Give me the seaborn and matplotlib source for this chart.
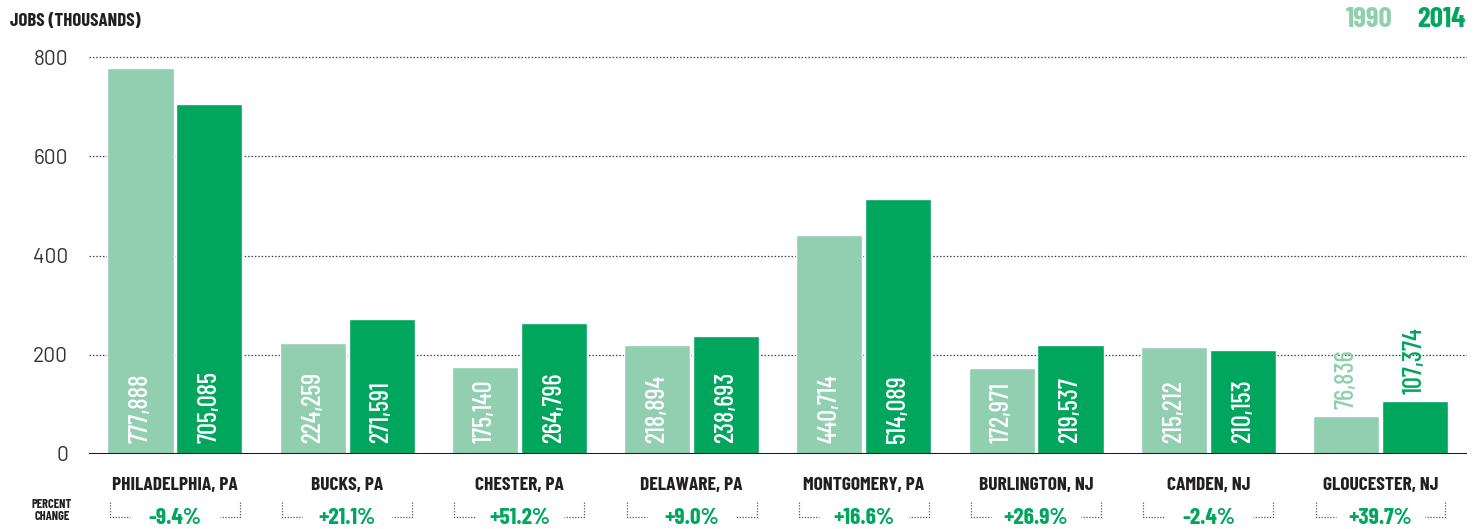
import pandas as pd
import matplotlib.pyplot as plt
import seaborn as sns

OUTPUT_FILE = "out.png"
COUNTIES = ["PHILADELPHIA, PA", "BUCKS, PA", "CHESTER, PA", "DELAWARE, PA",
            "MONTGOMERY, PA", "BURLINGTON, NJ", "CAMDEN, NJ", "GLOUCESTER, NJ"]
JOBS_1990 = [777888, 224259, 175140, 218894, 440714, 172971, 215212, 76836]
JOBS_2014 = [705085, 271591, 264796, 238693, 514089, 219537, 210153, 107374]
PCT_CHANGE = ["-9.4%", "+21.1%", "+51.2%", "+9.0%", "+16.6%", "+26.9%", "-2.4%", "+39.7%"]
YEARS = ["1990", "2014"]
COLORS = {"1990": "#91cfb0", "2014": "#00a65d"}

NARROW = ["Barlow Condensed", "DejaVu Sans"]
DARK = "#231f20"

df = pd.DataFrame({
    "county": COUNTIES * 2,
    "year": [YEARS[0]] * len(COUNTIES) + [YEARS[1]] * len(COUNTIES),
    "jobs": JOBS_1990 + JOBS_2014,
})
df["thousands"] = df["jobs"] / 1000

sns.set_style("white")
fig = plt.figure(figsize=(14.8, 5.29), dpi=100)
ax = fig.add_axes([0.060, 0.1418, 0.931, 0.769])

sns.barplot(data=df, x="county", y="thousands", hue="year", palette=COLORS,
            width=0.8, gap=0.04, ax=ax, legend=False, saturation=1, zorder=3)

ax.set_xlim(-0.5, 7.5)
ax.set_ylim(0, 820)
ax.set_yticks([0, 200, 400, 600, 800])
for v in [200, 400, 600, 800]:
    ax.axhline(v, color="#444", lw=0.9, ls=(0, (1.2, 1.5)), zorder=1)
ax.axhline(0, color="#1a1a1a", lw=2.2, zorder=4)
sns.despine(ax=ax, left=True, bottom=True)
ax.set_xlabel(""); ax.set_ylabel("")
ax.set_xticks([])
ax.tick_params(axis="y", length=0, pad=15, labelsize=15, labelcolor="#333")
for t in ax.get_yticklabels():
    t.set_family(["Barlow", "DejaVu Sans"])

# value labels: inside bars near the base, or above for short bars
for year, cont in zip(YEARS, ax.containers):
    for patch in cont:
        h = patch.get_height()
        x = patch.get_x() + patch.get_width() / 2
        txt = f"{int(round(h * 1000)):,}"
        if h > 150:
            ax.text(x, 22, txt, rotation=90, ha="center", va="bottom", color="white",
                    fontsize=19, family=NARROW, fontweight=500, zorder=5)
        else:
            ax.text(x, h + 14, txt, rotation=90, ha="center", va="bottom",
                    color=COLORS[year], fontsize=19, family=NARROW, fontweight=500, zorder=5)

# county names and percent change with dotted brackets
for i, (name, pct) in enumerate(zip(COUNTIES, PCT_CHANGE)):
    ax.text(i, -64, name, ha="center", va="center", fontsize=14, fontweight="bold",
            color=DARK, family=NARROW, clip_on=False)
    ax.text(i, -130, pct, ha="center", va="center", fontsize=17, fontweight="bold",
            color="#00a65d", family=NARROW, clip_on=False)
    kw = dict(color="#555", lw=0.9, ls=(0, (1, 1.3)), clip_on=False)
    ax.plot([i - 0.377, i - 0.377, i - 0.26], [-97, -127, -127], **kw)
    ax.plot([i + 0.377, i + 0.377, i + 0.26], [-97, -127, -127], **kw)

fig.text(0.007, 0.96, "JOBS (THOUSANDS)", fontsize=13.5, fontweight="bold", color=DARK,
         family=NARROW, ha="left", va="center")
fig.text(0.035, 0.035, "PERCENT\nCHANGE", fontsize=9, fontweight="bold", color=DARK,
         family=NARROW, ha="center", va="center", linespacing=1.1)
fig.text(0.941, 0.963, "1990", fontsize=21, fontweight="bold", color=COLORS["1990"],
         family=NARROW, ha="right", va="center")
fig.text(0.990, 0.963, "2014", fontsize=21, fontweight="bold", color=COLORS["2014"],
         family=NARROW, ha="right", va="center")

plt.savefig(OUTPUT_FILE, dpi=100)
plt.close()
print(f"Saved {OUTPUT_FILE}")
